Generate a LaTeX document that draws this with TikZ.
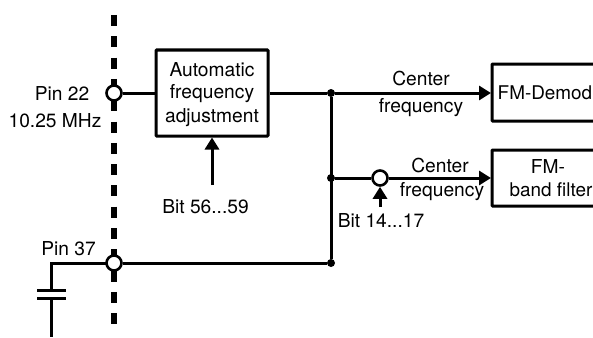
\documentclass[tikz,border=0pt]{standalone}
\usepackage{fontspec}
\setmainfont{TeX Gyre Heros}
\usetikzlibrary{arrows.meta}
\tikzset{
  wire/.style={line width=3pt,draw=black},
  arrowwire/.style={wire,-{Triangle[length=12pt,width=14pt]},shorten >=-0.5pt},
  blockbox/.style={draw=black,line width=3pt,rounded corners=0.8pt,fill=white,inner sep=0pt},
  lbl/.style={font=\fontsize{19.2}{24}\selectfont,inner sep=0pt,align=center,text=black},
  edgelbl/.style={lbl,font=\fontsize{18.9}{24}\selectfont,anchor=west},
  pinring/.style={circle,draw=black,line width=2.6pt,fill=white,minimum size=15pt,inner sep=0pt},
  junction/.style={circle,fill=black,minimum size=8pt,inner sep=0pt},
  boundary/.style={line width=5.5pt,draw=black,dash pattern=on 11pt off 10.3pt}
}
\begin{document}
\begin{tikzpicture}[x=1pt,y=-1pt]
\useasboundingbox (0,0) rectangle (593,337);
\clip (0,0) rectangle (593,337);
% chip boundary
\coordinate (bt) at (114,15);
\coordinate (bb) at (114,325);
\draw[boundary] (bt) -- (bb);
% blocks
\node[blockbox,minimum width=112pt,minimum height=86pt] (afa) at (212,93) {};
\node[blockbox,minimum width=120pt,minimum height=57pt] (dem) at (552,92.5) {};
\node[blockbox,minimum width=120pt,minimum height=56pt] (fil) at (552,178) {};
% points
\node[pinring] (p22) at (114,93) {};
\node[pinring] (p37) at (114,263) {};
\node[junction] (j1) at (331,93) {};
\node[junction] (j2) at (331,178) {};
\node[junction] (j3) at (331,263) {};
\node[pinring] (sw) at (380,178) {};
\coordinate (corner) at (51.5,263);
\coordinate (plateA) at (51.5,290);
\coordinate (plateB) at (51.5,298);
\coordinate (gnd) at (51.5,337);
\coordinate (bitA) at (212,185);
\coordinate (bitB) at (380,207);
% wires
\draw[wire] (p22) -- (afa);
\draw[wire] (afa.east |- j1) -- (j1);
\draw[arrowwire] (j1) -- (j1 -| dem.west);
\draw[wire] (j1) -- (j3);
\draw[wire] (j2) -- (sw);
\draw[arrowwire] (sw) -- (j2 -| fil.west);
\draw[wire] (j3) -- (p37);
\draw[wire,line cap=rect] (p37) -- (corner) -- (plateA);
\draw[wire] (plateB) -- (gnd);
\draw[wire] (37,290) -- (66,290);
\draw[wire] (37,298) -- (66,298);
\draw[arrowwire,shorten >=0pt] (bitA) -- (afa.south);
\draw[arrowwire,shorten >=0pt] (bitB) -- (sw.south);
% texts
\node[lbl] (t1) at (212,70) {Automatic};
\node[lbl] (t2) at (212,94) {frequency};
\node[lbl] (t3) at (212,118) {adjustment};
\node[lbl] (t4) at (62,93.5) {Pin 22};
\node[lbl] (t5) at (55,121) {10.25 MHz};
\node[lbl] (t6) at (68.5,249) {Pin 37};
\node[lbl] (t7) at (205.5,207) {Bit 56...59};
\node[lbl] (t8) at (421,79) {Center};
\node[lbl] (t9) at (421,108) {frequency};
\node[lbl] (t10) at (440,165) {Center};
\node[lbl] (t11) at (442,192) {frequency};
\node[lbl] (t12) at (381,221) {Bit 14...17};
\node[edgelbl] (t13) at (497.5,93) {FM-Demod};
\node[lbl] (t14) at (548,166) {FM-};
\node[edgelbl] (t15) at (509.5,190) {band filter};
\end{tikzpicture}
\end{document}
